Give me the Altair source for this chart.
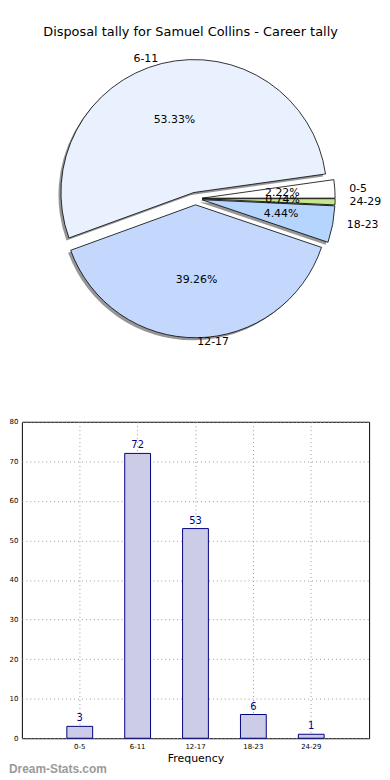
import math
import altair as alt
import pandas as pd

# ---- data ----
cats = ["0-5", "6-11", "12-17", "18-23", "24-29"]
counts = [3, 72, 53, 6, 1]
pie_colors = ["#FFFFFF", "#EAF1FE", "#C4D8FE", "#B5D5FE", "#C6E68E"]
y_ticks = [0, 10, 20, 30, 40, 50, 60, 70, 80]

title_text = "Disposal tally for Samuel Collins - Career tally"
watermark = "Dream-Stats.com"

df = pd.DataFrame({"cat": cats, "count": counts, "order": list(range(len(cats)))})

# ---- pie geometry (elliptical axes like the matplotlib original) ----
PX_X, PX_Y = 135, 126
W, H_PIE = 340, 330
CX, CY = 175, 157
R = 134
xs = alt.Scale(domain=[-CX / PX_X, (W - CX) / PX_X], nice=False, zero=False)
ys = alt.Scale(domain=[-(H_PIE - CY) / PX_Y, CY / PX_Y], nice=False, zero=False)
theta_scale = alt.Scale(domain=[0, 1], range=[2.5 * math.pi, 0.5 * math.pi])
color_scale = alt.Scale(domain=cats, range=pie_colors)

base = (
    alt.Chart(df)
    .transform_joinaggregate(total="sum(count)")
    .transform_window(cum="sum(count)", sort=[alt.SortField("order")], frame=[None, 0])
    .transform_calculate(f0="(datum.cum - datum.count) / datum.total")
    .transform_calculate(f1="datum.cum / datum.total")
    .transform_calculate(ang="PI * (datum.f0 + datum.f1)")
    .transform_calculate(ex="0.05 * cos(datum.ang)")
    .transform_calculate(ey="0.05 * sin(datum.ang)")
    .transform_calculate(lx="datum.ex + 1.1 * cos(datum.ang)")
    .transform_calculate(ly="datum.ey + 1.1 * sin(datum.ang)")
    .transform_calculate(px="datum.ex + 0.6 * cos(datum.ang)")
    .transform_calculate(py="datum.ey + 0.6 * sin(datum.ang)")
    .transform_calculate(pct="format(100 * datum.count / datum.total, '.2f') + '%'")
    .transform_calculate(side="cos(datum.ang) > 0 ? 'r' : 'l'")
)

arc_enc = dict(
    x=alt.X("ex:Q", scale=xs, axis=None),
    y=alt.Y("ey:Q", scale=ys, axis=None),
    theta=alt.Theta("f0:Q", scale=theta_scale, stack=False),
    theta2="f1:Q",
)

shadow = base.mark_arc(outerRadius=R, fill="#404040", opacity=0.55, xOffset=-2.5, yOffset=2.5).encode(**arc_enc)
arcs = base.mark_arc(outerRadius=R, stroke="black", strokeWidth=0.8).encode(
    color=alt.Color("cat:N", scale=color_scale, legend=None), **arc_enc
)

lab_enc = dict(
    x=alt.X("lx:Q", scale=xs, axis=None),
    y=alt.Y("ly:Q", scale=ys, axis=None),
    text="cat:N",
)
labels_r = base.transform_filter("datum.side == 'r'").mark_text(
    align="left", baseline="middle", fontSize=11, font="DejaVu Sans", color="black"
).encode(**lab_enc)
labels_l = base.transform_filter("datum.side == 'l'").mark_text(
    align="right", baseline="middle", fontSize=11, font="DejaVu Sans", color="black"
).encode(**lab_enc)
pcts = base.mark_text(
    align="center", baseline="middle", fontSize=11, font="DejaVu Sans", color="black"
).encode(
    x=alt.X("px:Q", scale=xs, axis=None),
    y=alt.Y("py:Q", scale=ys, axis=None),
    text="pct:N",
)

pie = alt.layer(shadow, arcs, pcts, labels_r, labels_l).properties(
    width=W,
    height=H_PIE,
    title=alt.TitleParams(title_text, fontSize=13, font="DejaVu Sans", fontWeight="normal",
                          color="black", offset=4, anchor="middle"),
    view=alt.ViewBackground(stroke="transparent"),
)

# ---- bar chart ----
bdf = pd.DataFrame({"cat": cats, "count": counts})
bx = alt.X(
    "cat:N", sort=cats,
    scale=alt.Scale(paddingInner=0.554, paddingOuter=0.777),
    axis=alt.Axis(title="Frequency", labelAngle=0, bandPosition=0.5, grid=True,
                  gridDash=[1, 3], gridColor="#999999", gridWidth=1, ticks=False, domain=False,
                  labelFontSize=7, labelFont="DejaVu Sans", labelColor="black", labelPadding=4,
                  titleFontSize=11, titleFont="DejaVu Sans", titleFontWeight="normal",
                  titleColor="black", titlePadding=3),
)
by = alt.Y(
    "count:Q", scale=alt.Scale(domain=[0, 80], nice=False),
    axis=alt.Axis(title=None, values=y_ticks, grid=True, gridDash=[1, 3], gridColor="#999999",
                  gridWidth=1, ticks=False, domain=False, labelFontSize=7, labelFont="DejaVu Sans",
                  labelColor="black", labelPadding=4),
)
bars = alt.Chart(bdf).mark_bar(fill="#CCCCE6", stroke="#000080", strokeWidth=1).encode(x=bx, y=by)
bar_labels = alt.Chart(bdf).mark_text(
    dy=-3, baseline="bottom", color="#000080", fontSize=10, font="DejaVu Sans"
).encode(x=bx, y=by, text="count:Q")

bar_chart = alt.layer(bars, bar_labels).properties(
    width=350,
    height=319,
    title=alt.TitleParams(watermark, orient="bottom", anchor="start", frame="group", color="#9A9A9A",
                          fontWeight="bold", fontSize=12, font="Liberation Sans", dx=-13, offset=1),
    view=alt.ViewBackground(stroke="black", strokeWidth=1),
)

chart = alt.vconcat(pie, bar_chart, spacing=46).properties(
    padding={"top": 14, "left": 0, "right": 0, "bottom": 0}
).configure(font="DejaVu Sans")

chart.save("out.html", embed_options={"renderer": "svg", "actions": False})
